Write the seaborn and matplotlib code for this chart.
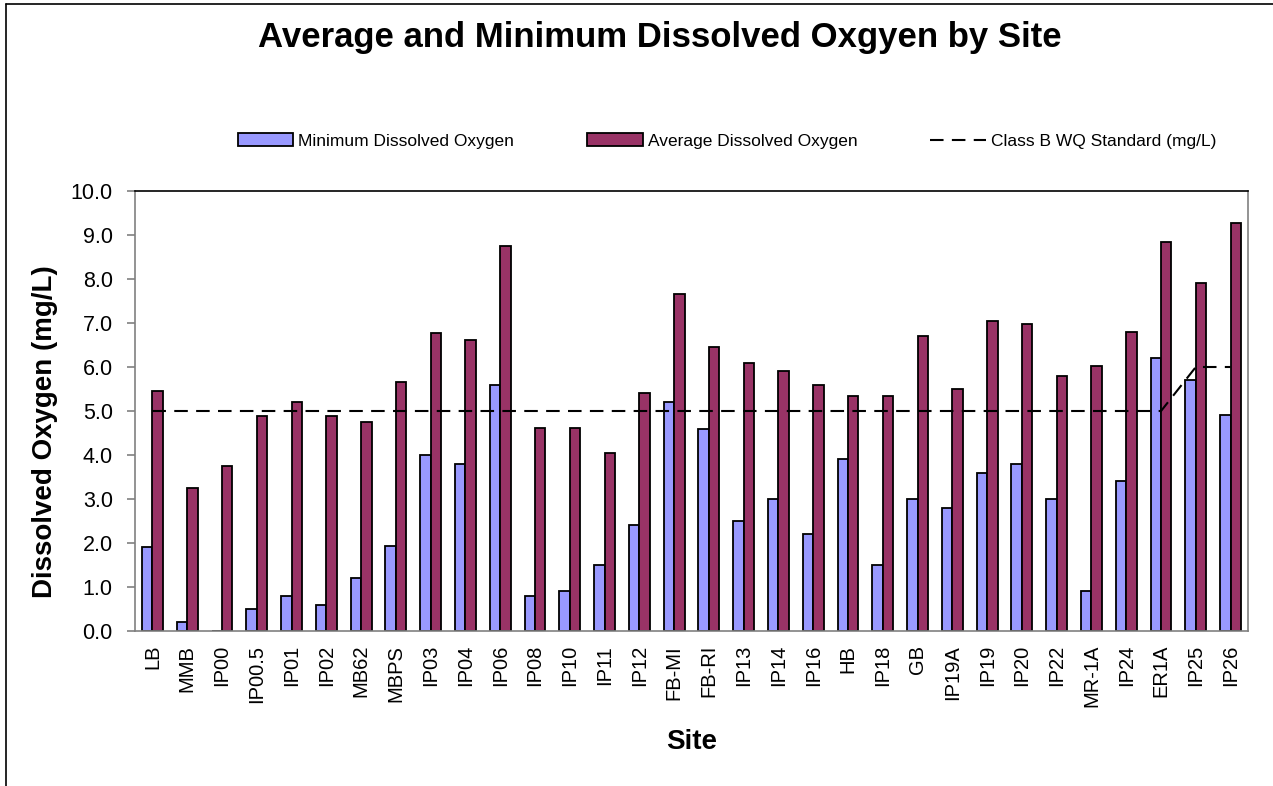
import numpy as np
import pandas as pd
import matplotlib
matplotlib.use("Agg")
import matplotlib.pyplot as plt
import seaborn as sns
from matplotlib.patches import Patch
from matplotlib.lines import Line2D

sites = ["LB", "MMB", "IP00", "IP00.5", "IP01", "IP02", "MB62", "MBPS", "IP03", "IP04",
         "IP06", "IP08", "IP10", "IP11", "IP12", "FB-MI", "FB-RI", "IP13", "IP14", "IP16",
         "HB", "IP18", "GB", "IP19A", "IP19", "IP20", "IP22", "MR-1A", "IP24", "ER1A",
         "IP25", "IP26"]
min_do = [1.9, 0.2, 0.0, 0.5, 0.8, 0.6, 1.2, 1.93, 4.0, 3.8,
          5.6, 0.8, 0.9, 1.5, 2.4, 5.2, 4.6, 2.5, 3.0, 2.2,
          3.9, 1.5, 3.0, 2.8, 3.6, 3.8, 3.0, 0.9, 3.4, 6.2,
          5.7, 4.9]
avg_do = [5.45, 3.25, 3.75, 4.88, 5.2, 4.88, 4.75, 5.67, 6.78, 6.62,
          8.75, 4.62, 4.62, 4.05, 5.4, 7.65, 6.45, 6.1, 5.9, 5.6,
          5.35, 5.35, 6.7, 5.5, 7.05, 6.98, 5.8, 6.02, 6.8, 8.83,
          7.9, 9.27]
standard = [5.0] * 29 + [5.0, 6.0, 6.0]

min_label = "Minimum Dissolved Oxygen"
avg_label = "Average Dissolved Oxygen"
std_label = "Class B WQ Standard (mg/L)"
colors = {min_label: "#9999FF", avg_label: "#993366"}

df = pd.DataFrame({"Site": sites, min_label: min_do, avg_label: avg_do})
long_df = df.melt(id_vars="Site", var_name="Series", value_name="DO")

sns.set_style("white")
plt.rcParams["font.family"] = ["Liberation Sans", "DejaVu Sans"]
plt.rcParams["text.color"] = "black"
plt.rcParams["axes.labelcolor"] = "black"
plt.rcParams["xtick.labelcolor"] = "black"
plt.rcParams["ytick.labelcolor"] = "black"

fig = plt.figure(figsize=(12.73, 7.86), dpi=100)
ax = fig.add_axes([135 / 1273, 1 - 631 / 786, (1248 - 135) / 1273, (631 - 191) / 786])

sns.barplot(data=long_df, x="Site", y="DO", hue="Series", palette=colors,
            width=0.6, edgecolor="black", linewidth=1.3, saturation=1,
            legend=False, ax=ax)
dash = (0, (6.5, 4))
ax.plot(np.arange(len(sites)), standard, color="black", linestyle=dash,
        linewidth=1.5, zorder=5)

ax.set_xlim(-0.5, len(sites) - 0.5)
ax.set_ylim(0, 10)
yt = np.arange(0, 10.01, 1.0)
ax.set_yticks(yt)
ax.set_yticklabels([f"{v:.1f}" for v in yt], fontsize=15.5)
ax.set_xticks(np.arange(len(sites)))
ax.set_xticklabels(sites, rotation=90, fontsize=14.5)
ax.set_xticks(np.arange(-0.5, len(sites)), minor=True)
ax.tick_params(axis="x", which="major", length=0, pad=10)
ax.tick_params(axis="x", which="minor", length=6, direction="out", color="#808080", width=1.2)
ax.tick_params(axis="y", length=6, direction="out", color="#808080", width=1.2, pad=10, left=True)

for s in ["left", "bottom", "right"]:
    ax.spines[s].set_color("#808080")
    ax.spines[s].set_linewidth(1.2)
ax.spines["top"].set_color("black")
ax.spines["top"].set_linewidth(1.2)

ax.set_xlabel("Site", fontsize=20, fontweight="bold", labelpad=16)
ax.set_ylabel("Dissolved Oxygen (mg/L)", fontsize=20, fontweight="bold")
ax.yaxis.set_label_coords(-0.069, 0.452)

fig.text(660 / 1273, 1 - 37 / 786, "Average and Minimum Dissolved Oxgyen by Site",
         ha="center", va="center", fontsize=25, fontweight="bold")

handles = [Patch(facecolor=colors[min_label], edgecolor="black", linewidth=1.3),
           Patch(facecolor=colors[avg_label], edgecolor="black", linewidth=1.3),
           Line2D([0], [0], color="black", linestyle=dash, linewidth=1.5)]
fig.legend(handles, [min_label, avg_label, std_label], loc="center",
           bbox_to_anchor=(727 / 1273, 1 - 141 / 786), ncol=3, frameon=False,
           fontsize=12.5, handlelength=3.2, handletextpad=0.3, columnspacing=4.2,
           handleheight=0.7)

# chart area border (left and top edges visible)
fig.add_artist(Line2D([6 / 1273, 6 / 1273], [0, 1 - 4 / 786], color="black", linewidth=1.2,
                      transform=fig.transFigure))
fig.add_artist(Line2D([6 / 1273, 1], [1 - 4 / 786, 1 - 4 / 786], color="black", linewidth=1.2,
                      transform=fig.transFigure))

fig.savefig("out.png", dpi=100)
